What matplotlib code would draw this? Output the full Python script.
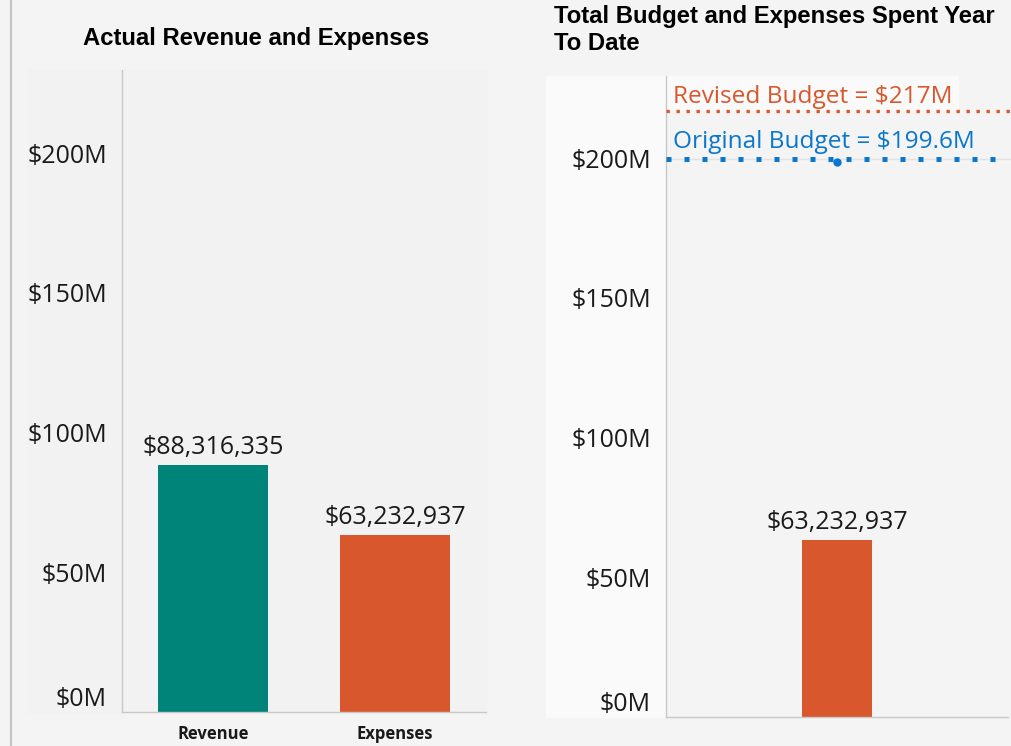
import matplotlib
matplotlib.use("Agg")
import matplotlib.pyplot as plt
import matplotlib.transforms as mtransforms
from matplotlib.patches import Rectangle
from matplotlib.lines import Line2D

# ---- data ----
categories = ["Revenue", "Expenses"]
actual_values = [88316335, 63232937]
actual_labels = ["$88,316,335", "$63,232,937"]
ytd_categories = ["Expenses"]
ytd_values = [63232937]
ytd_labels = ["$63,232,937"]
revised_budget_m = 217.0
original_budget_m = 199.6
revised_label = "Revised Budget = $217M"
original_label = "Original Budget = $199.6M"
yticks = [0, 50, 100, 150, 200]
ytick_labels = ["$0M", "$50M", "$100M", "$150M", "$200M"]
title_left = "Actual Revenue and Expenses"
title_right = "Total Budget and Expenses Spent Year\nTo Date"

# ---- style ----
TEAL = "#00847A"
ORANGE = "#D9572D"
BLUE = "#0A77CC"
FIG_BG = "#F4F4F4"
NUM_FONT = "Open Sans"
TITLE_FONT = "Liberation Sans"

W, H = 1011, 746
def fx(px):
    return px / W
def fy(py):
    return 1 - py / H

fig = plt.figure(figsize=(W / 100, H / 100), dpi=100, facecolor=FIG_BG)

# panel backgrounds
fig.add_artist(Rectangle((fx(28), fy(712)), (486 - 28) / W, (712 - 70) / H,
                         transform=fig.transFigure, color="#F2F2F2", zorder=-2))
fig.add_artist(Rectangle((fx(546), fy(717)), (666 - 546) / W, (717 - 76) / H,
                         transform=fig.transFigure, color="#FAFAFA", zorder=-2))
fig.add_artist(Rectangle((fx(666), fy(109)), (958 - 666) / W, (109 - 76) / H,
                         transform=fig.transFigure, color="#FAFAFA", zorder=-2))
# left divider line
fig.add_artist(Line2D([fx(11), fx(11)], [0, 1], transform=fig.transFigure,
                      color="#C4C4C4", lw=1.6, zorder=-1))

PX_PER_M = 2.794

def style_axes(ax):
    ax.set_facecolor("none")
    for s in ("top", "right"):
        ax.spines[s].set_visible(False)
    for s in ("left", "bottom"):
        ax.spines[s].set_color("#C8C8C8")
        ax.spines[s].set_linewidth(1.0)
    ax.set_yticks(yticks)
    ax.set_yticklabels(ytick_labels, fontsize=18, family=NUM_FONT, color="#1A1A1A")
    ax.tick_params(axis="y", length=0, pad=10.8)
    ax.get_yticklabels()[0].set_va("bottom")

# ---- left chart ----
ax1 = fig.add_axes([fx(122), fy(712), 364 / W, (712 - 70) / H])
style_axes(ax1)
ax1.set_xlim(-0.5, 1.5)
ax1.set_ylim(0, (712 - 70) / PX_PER_M)
vals_m = [v / 1e6 for v in actual_values]
ax1.bar(range(len(categories)), vals_m, width=0.6, color=[TEAL, ORANGE], zorder=2)
for i, (v, lab) in enumerate(zip(vals_m, actual_labels)):
    ax1.annotate(lab, (i, v), xytext=(0, 8), textcoords="offset points",
                 ha="center", va="baseline", fontsize=18, family=NUM_FONT, color="#1A1A1A")
ax1.set_xticks(range(len(categories)))
ax1.set_xticklabels(categories, fontsize=12, family=NUM_FONT, fontweight="bold", color="#1A1A1A")
ax1.tick_params(axis="x", length=0, pad=9.5)

# ---- right chart ----
ax2 = fig.add_axes([fx(666), fy(717), (1008 - 666) / W, (717 - 76) / H])
style_axes(ax2)
ax2.set_xlim(-0.5, 0.5)
ax2.set_ylim(0, (717 - 76) / PX_PER_M)
ytd_m = [v / 1e6 for v in ytd_values]
ax2.bar(range(len(ytd_categories)), ytd_m, width=0.205, color=ORANGE, zorder=2)
for i, (v, lab) in enumerate(zip(ytd_m, ytd_labels)):
    ax2.annotate(lab, (i, v), xytext=(0, 8), textcoords="offset points",
                 ha="center", va="baseline", fontsize=18, family=NUM_FONT, color="#1A1A1A")
ax2.set_xticks([])

trans = mtransforms.blended_transform_factory(ax2.transAxes, ax2.transData)
ax2.plot([0, 1.012], [original_budget_m] * 2, transform=trans, color="#E4E4E4",
         lw=1, zorder=1, clip_on=False)
ax2.plot([0, 1.012], [revised_budget_m] * 2, transform=trans, color=ORANGE, lw=2.4,
         ls=(0, (1, 2.0)), dash_capstyle="butt", clip_on=False, zorder=3)
ax2.plot([0, 0.99], [original_budget_m] * 2, transform=trans, color=BLUE, lw=3.6,
         ls=(0, (1, 2.6)), dash_capstyle="butt", clip_on=False, zorder=3)
ax2.plot([0], [original_budget_m - 1], "o", color=BLUE, ms=5, zorder=4)

ax2.annotate(revised_label, (0.02, revised_budget_m), xycoords=trans, xytext=(0, 5.5),
             textcoords="offset points", ha="left", va="baseline", fontsize=17.6,
             family=NUM_FONT, color=ORANGE)
ax2.annotate(original_label, (0.02, original_budget_m), xycoords=trans, xytext=(0, 8),
             textcoords="offset points", ha="left", va="baseline", fontsize=17.6,
             family=NUM_FONT, color=BLUE)

# ---- titles ----
fig.text(fx(256.5), fy(38), title_left, ha="center", va="center", fontsize=17.2,
         fontweight="bold", family=TITLE_FONT, color="#000000")
fig.text(fx(554), fy(5.5), title_right, ha="left", va="top", fontsize=17.2,
         fontweight="bold", family=TITLE_FONT, color="#000000", linespacing=1.2)

fig.savefig("out.png", dpi=100, facecolor=FIG_BG)
